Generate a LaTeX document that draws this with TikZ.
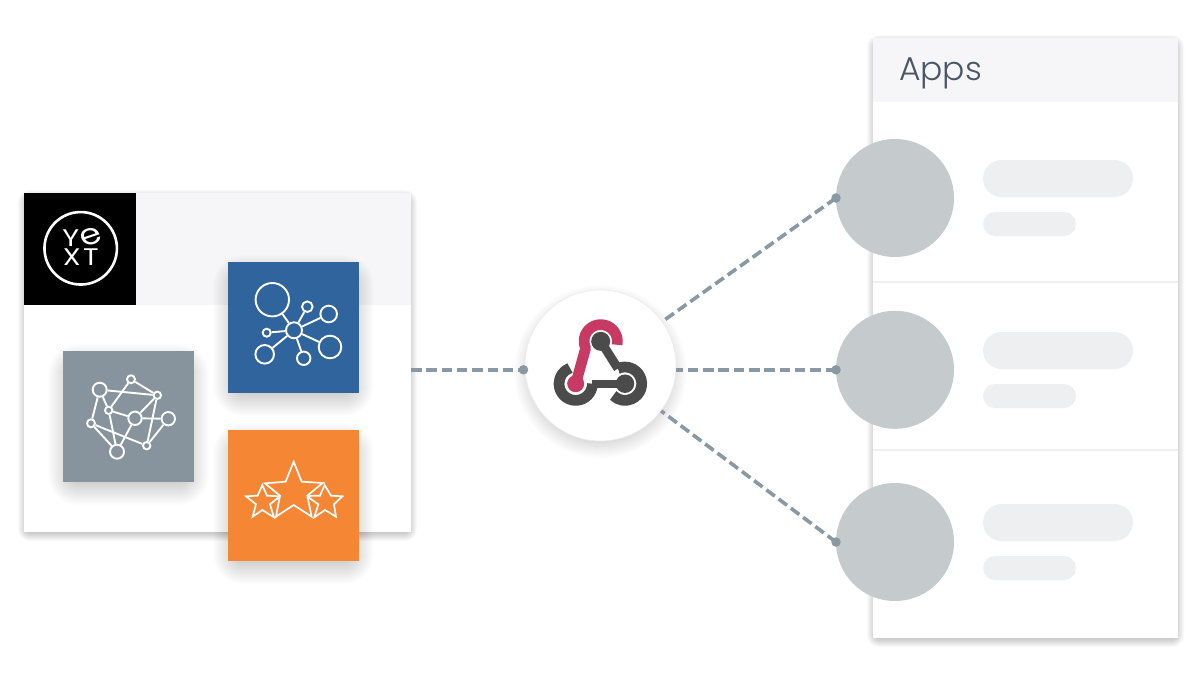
\documentclass[tikz,border=0pt]{standalone}
\usepackage{fontspec}
\usetikzlibrary{calc}
\newfontfamily\geofont[UprightFont=* Light]{Poppins}
\newfontfamily\logofont{Poppins}
\definecolor{bandgrey}{HTML}{F6F6F8}
\definecolor{pillgrey}{HTML}{EEEFF1}
\definecolor{appgrey}{HTML}{C5CACD}
\definecolor{linegrey}{HTML}{8A98A3}
\definecolor{iconblue}{HTML}{30649C}
\definecolor{icongrey}{HTML}{87949E}
\definecolor{iconorange}{HTML}{F58634}
\definecolor{hookred}{HTML}{C73A63}
\definecolor{hookdark}{HTML}{4B4B4B}
\definecolor{titleslate}{HTML}{4A5666}
\newcommand\softrect[7]{%
  \foreach \k in {1,...,#6}{%
    \pgfmathsetmacro\d{\k-#6/2}
    \fill[black,opacity=#7,rounded corners=\k pt] ({#1-\d},{#2-\d+#5}) rectangle ({#3+\d},{#4+\d+#5});
  }}
\newcommand\softcirc[6]{%
  \foreach \k in {1,...,#5}{%
    \pgfmathsetmacro\d{#3+\k-#5/2}
    \fill[black,opacity=#6] (#1,{#2+#4}) circle[radius=\d];
  }}
\tikzset{
  box/.style={rectangle,draw=none,inner sep=0pt,outer sep=0pt},
  square/.style={box,minimum width=131pt,minimum height=131pt},
  pillbig/.style={box,fill=pillgrey,rounded corners=18.5pt,minimum width=150pt,minimum height=37pt},
  pillsmall/.style={box,fill=pillgrey,rounded corners=12pt,minimum width=93pt,minimum height=24pt},
  appdisc/.style={circle,fill=appgrey,inner sep=0pt,outer sep=0pt,minimum size=118pt},
  enddot/.style={circle,fill=linegrey,inner sep=0pt,minimum size=9.5pt},
  wire/.style={draw=linegrey,line width=3.6pt,dash pattern=on 10.5pt off 4.8pt},
  flatwire/.style={wire,line width=4.2pt},
  divider/.style={draw=pillgrey,line width=2pt},
  blueedge/.style={draw=white,line width=1.9pt},
  bluering/.style={circle,draw=white,line width=1.9pt,fill=iconblue,inner sep=0pt},
  greyring/.style={circle,draw=white,line width=1.9pt,fill=icongrey,inner sep=0pt},
  starline/.style={draw=white,line width=1.7pt,fill=iconorange,line join=miter},
  logotext/.style={text=white,inner sep=0pt,xscale=1.2,font=\logofont\fontsize{24}{24}\selectfont},
  hook/.style={line width=10.7pt,line cap=butt,line join=round},
}
\begin{document}
\begin{tikzpicture}[x=1pt,y=-1pt]
\useasboundingbox (0,0) rectangle (1200,675);
\fill[white] (0,0) rectangle (1200,675);

% left card
\softrect{24}{193}{411}{532}{3}{12}{0.022}
\node[box,fill=white,minimum width=387pt,minimum height=339pt] (yextcard) at (217.5,362.5) {};
\node[box,fill=bandgrey,minimum width=387pt,minimum height=112pt] (yextband) at (217.5,249) {};
\node[box,fill=black,minimum width=112pt,minimum height=112pt] (yextlogo) at (80,249) {};
\node[circle,draw=white,line width=2.6pt,inner sep=0pt,minimum size=72.5pt] (logoring) at (80.7,248.3) {};
\node[logotext] (logoY) at (70.7,238.5) {Y};
\node[logotext,xscale=1,font=\logofont\fontsize{29}{29}\selectfont,rotate=22] (logoE) at (90.7,236.5) {e};
\node[logotext] (logoX) at (71.7,257.5) {X};
\node[logotext] (logoT) at (90.8,257.5) {T};

% blue tile
\softrect{228}{262}{359}{393}{8}{30}{0.0062}
\node[square,fill=iconblue] (bluetile) at (293.5,327.5) {};
\node[bluering,minimum size=33.4pt] (b1) at (272.3,299.7) {};
\node[bluering,minimum size=10.6pt] (b2) at (307.3,306.7) {};
\node[bluering,minimum size=16.6pt] (b3) at (328.7,314) {};
\node[bluering,minimum size=16pt] (b0) at (294,330.3) {};
\node[bluering,minimum size=8pt] (b4) at (266.7,332.7) {};
\node[bluering,minimum size=18.6pt] (b5) at (264.7,354.3) {};
\node[bluering,minimum size=13.4pt] (b6) at (303.7,358.3) {};
\node[bluering,minimum size=22.6pt] (b7) at (330,347) {};
\foreach \t in {b1,b2,b3,b4,b5,b6,b7} \draw[blueedge] (b0) -- (\t);

% grey tile
\softrect{63}{351}{194}{482}{8}{30}{0.0062}
\node[square,fill=icongrey] (greytile) at (128.5,416.5) {};
\node[greyring,minimum size=14pt] (ga) at (99.7,389.7) {};
\node[greyring,minimum size=8pt] (gb) at (131,379.3) {};
\node[greyring,minimum size=7.4pt] (gc) at (157.3,395.3) {};
\node[greyring,minimum size=7.4pt] (gd) at (108.7,410.3) {};
\node[greyring,minimum size=13.4pt] (ge) at (135,418.3) {};
\node[greyring,minimum size=13.4pt] (gf) at (168.3,418.7) {};
\node[greyring,minimum size=8pt] (gg) at (91,423.3) {};
\node[greyring,minimum size=7.4pt] (gh) at (146.7,445.7) {};
\node[greyring,minimum size=14pt] (gi) at (117,451.7) {};
\foreach \s/\t in {ga/gc,ga/gg,ga/gd,gb/gc,gb/gd,gc/ge,gc/gh,gd/ge,gd/gi,ge/gf,ge/gi,gf/gh,gg/gi,gg/gh}
  \draw[blueedge] (\s) -- (\t);

% orange tile
\softrect{228}{430}{359}{561}{8}{30}{0.0062}
\node[square,fill=iconorange] (orangetile) at (293.5,495.5) {};
\begin{scope}[shift={(220,425)},x=0.3333pt,y=-0.3333pt]
  \draw[starline] (127,180) -- (141,212) -- (180,214) -- (150,238) -- (162,277) -- (127,255) -- (98,275) -- (108,238) -- (78,214) -- (113,212) -- cycle;
  \draw[starline] (314,180) -- (333,212) -- (367,214) -- (342,238) -- (348,275) -- (315,255) -- (283,277) -- (295,238) -- (260,213) -- (300,212) -- cycle;
  \draw[starline] (221,110) -- (245,170) -- (308,174) -- (262,212) -- (275,275) -- (221,240) -- (168,275) -- (180,212) -- (135,175) -- (197,170) -- cycle;
\end{scope}

% right card
\softrect{873}{38}{1178}{638}{3}{12}{0.022}
\node[box,fill=white,minimum width=305pt,minimum height=600pt] (appscard) at (1025.5,338) {};
\node[box,fill=bandgrey,minimum width=305pt,minimum height=64pt] (appsband) at (1025.5,70) {};
\node[anchor=base west,inner sep=0pt,text=titleslate,font=\geofont\fontsize{33}{33}\selectfont] (appstitle) at (899,80.5) {Apps};
\draw[divider] (appscard.west |- 0,282) -- (appscard.east |- 0,282);
\draw[divider] (appscard.west |- 0,450) -- (appscard.east |- 0,450);
\node[pillbig] (p1) at (1058,178.5) {};
\node[pillsmall] (q1) at (1029.5,224) {};
\node[pillbig] (p2) at (1058,350.5) {};
\node[pillsmall] (q2) at (1029.5,396) {};
\node[pillbig] (p3) at (1058,522.5) {};
\node[pillsmall] (q3) at (1029.5,568) {};
\node[appdisc] (app1) at (895,198) {};
\node[appdisc] (app2) at (895,369.8) {};
\node[appdisc] (app3) at (895,542) {};

% hub
\softcirc{600.5}{365.5}{75.5}{6}{22}{0.007}
\node[circle,fill=white,draw=black!8,line width=.6pt,inner sep=0pt,minimum size=151pt] (hub) at (600.5,365.5) {};
\coordinate (htop) at (600.7,341.3);
\coordinate (hright) at (625,383.7);
\coordinate (hleft) at (575.7,383.7);
\draw[hook,hookdark] ($(hleft)+(0:16.7)$) arc[start angle=0,end angle=250,radius=16.7];
\draw[hook,hookdark,line width=8pt] (hright) -- ($(hleft)+(0:16.7)$);
\draw[hook,hookdark] ($(hright)+(245:16.7)$) arc[start angle=245,end angle=495,radius=16.7];
\draw[hook,hookdark,line width=9pt] (htop) -- ($(hright)+(245:16.7)$);
\draw[hook,hookred] ($(htop)+(12:16.7)$) arc[start angle=12,end angle=-205,radius=16.7] -- (hleft);
\node[circle,fill=hookdark,minimum size=19pt,inner sep=0pt] (hookA) at (htop) {};
\node[circle,fill=hookdark,minimum size=18.5pt,inner sep=0pt] (hookB) at (hright) {};
\node[circle,fill=hookred,minimum size=17pt,inner sep=0pt] (hookC) at (hleft) {};

% connectors
\node[enddot] (dot0) at (523.5,369.8) {};
\node[enddot] (dot1) at (app1.west) {};
\node[enddot] (dot2) at (app2.west) {};
\node[enddot] (dot3) at (app3.west) {};
\draw[flatwire] (yextcard.east |- dot0) -- (dot0.center);
\draw[wire] (dot1.center) -- (hub);
\draw[flatwire] (dot2.center) -- (hub.east |- dot2);
\draw[wire] (dot3.center) -- (hub);
\end{tikzpicture}
\end{document}
